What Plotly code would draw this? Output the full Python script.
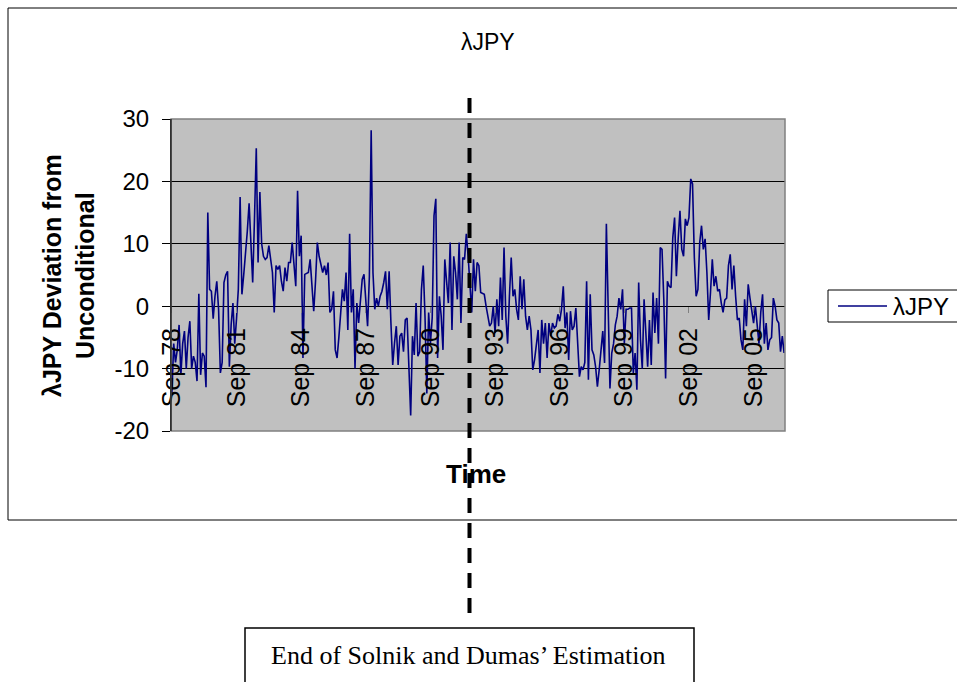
import pandas as pd
import plotly.graph_objects as go

# ---- data (monthly deviation of lambda JPY from its unconditional value) ----
seg_1978_1985 = [-14, -6, -9, -7, -3, -11, -6, -4, -10, -5, -2.4, -10, -8, -9, -12, 2, -11, -7.5, -8, -13,
                 15, 2.7, 2.4, -2, 1.6, 4, -0.5, -10.7, -9, 3.8, 5, 5.6, -9.7, -3, 0.5, -6, -2, 2.7, 17.5, 1.9,
                 5, 8, 12, 16.5, 10, 3.8, 14, 25.3, 7, 18.3, 10, 8, 7.5, 7.8, 9.7, 7, 5.4, -1, 6.5, 5.9,
                 6.5, 4, 2.4, 6.2, 4, 7, 7, 10.2, 6, 3.2, 18.5, 8, 11.3, -8.3, 5.1, 5.3, 5.4, 7.5, 2.7, -0.8,
                 4, 10.2, 8]
seg_1985_1992 = [6.5, 5.4, 6.5, 5, 7, -1, -0.5, 2.4, -7, -8.3, -5, -1.6, 2.7, 0.8, 5.4, -3.8, 11.6, -1, 2.7, -10,
                 0.5, -2.7, 0.3, 4.3, 5.1, 0, -3.2, 4.8, 28.2, 5.4, -0.5, 1.3, 0, 1.6, 2.4, 3.8, 5.6, -0.5, 5.6, -2.7,
                 -9.4, -5.9, -3.2, -9.4, -4.8, -4.3, -7.3, -2.2, -1.9, -9.7, -17.5, -4.8, -7.8, 0.5, -8, -7.3, 2.7, 6.5, -1.8, -14,
                 -1, -6, -1.8, 14.5, 17.2, -8.3, 1.6, -1.6, -7, 7.5, 3.2, 0.5, 10.2, -3.8, 8, 5.4, 1.1, 10.2, -2.7, 7.8,
                 7.5, 11.6, 8]
seg_1992_1999 = [4, -1, 7.5, 2.4, 7, 6.5, 2.2, 2, 1.9, 0, -1.5, -3.2, -2.7, 0, -4.3, 1.1, -3.2, 4.6, -2.2, 9.4,
                 -1.6, -6, 1.6, 7.8, 1.6, 2.7, -0.5, -2.2, 4.8, -0.5, 4.3, -1.6, -3.8, -1.6, -3.8, -10.2, -8.6, -6, -3.8, -10.7,
                 -2.2, -6, -2.7, -8.3, -2.7, -4.8, -2.7, -3.5, -3.2, -1.3, -2.4, -0.5, 3.2, -3.5, -1, -8.6, -0.8, -3.8, -3.2, -0.3,
                 -6, -11.3, -9.7, -10.2, -9, 4, -11.8, 1.9, -7, -7.8, -9.7, -12.9, -10.2, -7, -4, -9.1, 13.2, 0, -13.2, -7.5,
                 -6, -3, -1.6, 1.3]
seg_1999_2007 = [-0.5, 2.7, -6, -0.5, -0.5, -0.3, -0.3, -10.7, -7.5, -13.4, 3.8, -5.4, -10, 1.1, -3.8, -9.7, -2.2, -9.4, 2.2, -4.3,
                 1.3, -6, 9.4, 9.1, 1, -11.6, 4, 3.2, 3, 11, 14.2, 4.8, 10.8, 15.3, 9.1, 8, 14, 12.9, 14.2, 20.4,
                 19.6, 7.8, 1.6, 2.7, 10.2, 12.9, 9.1, 10.8, 5.4, -2.2, 2.2, 7.5, 3.2, 4.8, 2.4, 2.7, 0.5, -1, 1, 1.3,
                 6.5, 8.3, 2.7, 6.5, 1.6, -2.2, -1.9, -5.4, -7, 1.1, -3.2, 3.5, 1.3, -1, -2.7, 0, -3.2, -6, -1, 1.9,
                 -6, -2.7, -7, -5.4, -5, 1.3, 0, -2.2, -2.7, -7.3, -4.8, -7.5]
values = seg_1978_1985 + seg_1985_1992 + seg_1992_1999 + seg_1999_2007

months = list(pd.date_range("1978-09-01", periods=len(values), freq="MS").strftime("%b %y"))
tick_labels = ["Sep 78", "Sep 81", "Sep 84", "Sep 87", "Sep 90", "Sep 93", "Sep 96", "Sep 99", "Sep 02", "Sep 05"]
series_name = "λJPY"
y_ticks = [-20, -10, 0, 10, 20, 30]
y_tick_text = ["-20", "-10", "0", "10", "20", "30"]

# ---- geometry helpers (pixel -> paper) ----
W, H = 957, 682
L, R, T, B = 171, 785, 119, 431
def px(x):
    return (x - L) / (R - L)
def py(y):
    return (B - y) / (B - T)

SANS = "Liberation Sans, Arial, sans-serif"
fig = go.Figure()
fig.add_trace(go.Scatter(x=months, y=values, mode="lines", name=series_name,
                         line=dict(color="#000080", width=1.6), showlegend=False))

fig.update_layout(
    width=W, height=H,
    margin=dict(l=L, r=W - R, t=T, b=H - B, autoexpand=False),
    paper_bgcolor="white", plot_bgcolor="#C0C0C0",
    font=dict(family=SANS, color="black"),
    xaxis=dict(type="category", range=[-0.5, len(values) - 0.5],
               anchor="free", position=py(306), showgrid=False, showline=False, zeroline=False,
               tickmode="array", tickvals=tick_labels, ticktext=tick_labels,
               tickangle=-90, ticks="outside", ticklen=6, tickcolor="#808080", ticklabelstandoff=5,
               tickfont=dict(size=25, family=SANS)),
    yaxis=dict(range=[-20, 30], tickmode="array", tickvals=y_ticks, ticktext=y_tick_text,
               showgrid=True, gridcolor="black", gridwidth=1,
               zeroline=False, showline=True, linecolor="black", linewidth=1,
               ticks="outside", ticklen=8, tickcolor="black", ticklabelstandoff=8,
               tickfont=dict(size=24, family=SANS)),
)

shapes = [
    # plot area border
    dict(type="rect", xref="paper", yref="paper", x0=0, x1=1, y0=0, y1=1,
         line=dict(color="#808080", width=1.5), layer="above"),
    # left axis line redraw (black)
    dict(type="line", xref="paper", yref="paper", x0=0, x1=0, y0=0, y1=1,
         line=dict(color="black", width=1), layer="above"),
    # outer chart border
    dict(type="rect", xref="paper", yref="paper", x0=px(8), x1=px(990), y0=py(520), y1=py(8),
         line=dict(color="black", width=1)),
    # legend box
    dict(type="rect", xref="paper", yref="paper", x0=px(828), x1=px(990), y0=py(322), y1=py(290),
         line=dict(color="black", width=1), fillcolor="white"),
    dict(type="line", xref="paper", yref="paper", x0=px(838), x1=px(887), y0=py(306), y1=py(306),
         line=dict(color="#000080", width=1.6)),
    # estimation end marker
    dict(type="line", xref="paper", yref="paper", x0=px(469.5), x1=px(469.5), y0=py(613), y1=py(95),
         line=dict(color="black", width=4, dash="15px,10px"), layer="above"),
    # text box
    dict(type="rect", xref="paper", yref="paper", x0=px(245), x1=px(694), y0=py(700), y1=py(628),
         line=dict(color="black", width=1.5)),
]
fig.update_layout(shapes=shapes)

annotations = [
    dict(text="λJPY", xref="paper", yref="paper", x=px(488), y=py(42), showarrow=False,
         xanchor="center", yanchor="middle", font=dict(size=23, family=SANS)),
    dict(text="<b>λJPY Deviation from<br>Unconditional</b>", xref="paper", yref="paper",
         x=px(68), y=py(276), showarrow=False, textangle=-90, xanchor="center", yanchor="middle",
         font=dict(size=25, family=SANS)),
    dict(text="<b>Time</b>", xref="paper", yref="paper", x=px(476), y=py(474), showarrow=False,
         xanchor="center", yanchor="middle", font=dict(size=26, family=SANS)),
    dict(text=series_name, xref="paper", yref="paper", x=px(891), y=py(306), showarrow=False,
         xanchor="left", yanchor="middle", font=dict(size=24, family=SANS)),
    dict(text="End of Solnik and Dumas’ Estimation", xref="paper", yref="paper", x=px(468), y=py(655),
         showarrow=False, xanchor="center", yanchor="middle",
         font=dict(size=26, family="Liberation Serif, Times New Roman, serif")),
]
fig.update_layout(annotations=annotations)

fig.write_html("out.html")
